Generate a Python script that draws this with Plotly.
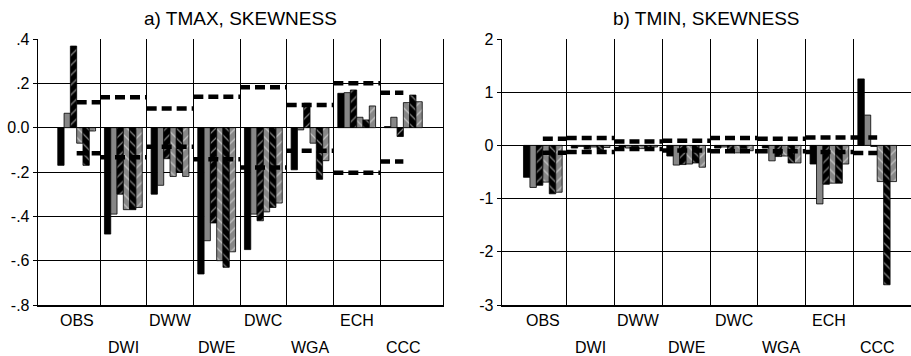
import plotly.graph_objects as go

categories = ["OBS", "DWI", "DWW", "DWE", "DWC", "WGA", "ECH", "CCC"]

# Panel a) TMAX skewness, six series per category
tmax_s1 = [-0.17, -0.48, -0.30, -0.66, -0.55, -0.19, 0.155, 0.005]
tmax_s2 = [0.065, -0.39, -0.26, -0.51, -0.39, -0.01, 0.158, 0.047]
tmax_s3 = [0.368, -0.30, -0.14, -0.43, -0.42, 0.11, 0.17, -0.04]
tmax_s4 = [-0.07, -0.37, -0.22, -0.60, -0.38, -0.07, 0.047, 0.113]
tmax_s5 = [-0.17, -0.37, -0.20, -0.63, -0.36, -0.233, 0.035, 0.147]
tmax_s6 = [-0.015, -0.36, -0.22, -0.56, -0.34, -0.149, 0.098, 0.117]
tmax_upper = [0.115, 0.137, 0.087, 0.14, 0.182, 0.102, 0.20, 0.158]
tmax_lower = [-0.115, -0.134, -0.086, -0.143, -0.18, -0.104, -0.203, -0.153]

# Panel b) TMIN skewness
tmin_s1 = [-0.60, -0.05, -0.03, -0.20, -0.05, -0.05, -0.35, 1.25]
tmin_s2 = [-0.79, -0.02, -0.05, -0.37, -0.03, -0.29, -1.10, 0.57]
tmin_s3 = [-0.75, -0.07, -0.02, -0.36, -0.10, -0.21, -0.73, -0.02]
tmin_s4 = [-0.69, -0.03, -0.06, -0.35, -0.14, -0.20, -0.71, -0.68]
tmin_s5 = [-0.91, -0.08, -0.04, -0.33, -0.06, -0.33, -0.71, -2.62]
tmin_s6 = [-0.88, -0.04, -0.03, -0.41, -0.10, -0.33, -0.35, -0.68]
tmin_upper = [0.125, 0.137, 0.075, 0.088, 0.137, 0.126, 0.15, 0.15]
tmin_lower = [-0.14, -0.125, -0.07, -0.094, -0.11, -0.11, -0.126, -0.145]

tmax_ticks = [0.4, 0.2, 0.0, -0.2, -0.4, -0.6, -0.8]
tmax_ticktext = [".4", ".2", "0.0", "-.2", "-.4", "-.6", "-.8"]
tmin_ticks = [2, 1, 0, -1, -2, -3]
tmin_ticktext = ["2", "1", "0", "-1", "-2", "-3"]

GRAY = "#878787"
styles = [
    dict(color="black"),
    dict(color=GRAY),
    dict(color="black", pattern=dict(shape="/", bgcolor="black", fgcolor="white", size=7, solidity=0.18, fillmode="overlay")),
    dict(color=GRAY, pattern=dict(shape="\\", bgcolor=GRAY, fgcolor="white", size=7, solidity=0.18, fillmode="overlay")),
    dict(color="black", pattern=dict(shape="\\", bgcolor="black", fgcolor="white", size=7, solidity=0.18, fillmode="overlay")),
    dict(color=GRAY, pattern=dict(shape="/", bgcolor=GRAY, fgcolor="white", size=7, solidity=0.18, fillmode="overlay")),
]

xs = list(range(len(categories)))
n = len(categories)


def bound_segments(vals):
    """Horizontal segment per category: from the mid-point to the neighbour
    boundary (first starts at its own centre, last ends at its own centre)."""
    sx, sy = [], []
    for i, v in enumerate(vals):
        x0 = xs[i] if i == 0 else xs[i] - 0.5
        x1 = xs[i] if i == n - 1 else xs[i] + 0.5
        sx += [x0, x1, None]
        sy += [v, v, None]
    return sx, sy


fig = go.Figure()
panels = [
    ("x", "y", [tmax_s1, tmax_s2, tmax_s3, tmax_s4, tmax_s5, tmax_s6], tmax_upper, tmax_lower),
    ("x2", "y2", [tmin_s1, tmin_s2, tmin_s3, tmin_s4, tmin_s5, tmin_s6], tmin_upper, tmin_lower),
]
for xa, ya, series, up, lo in panels:
    for i, s in enumerate(series):
        m = dict(styles[i])
        m["line"] = dict(color="black", width=0.8)
        fig.add_trace(go.Bar(x=xs, y=s, xaxis=xa, yaxis=ya, marker=m, showlegend=False,
                             offsetgroup=str(i)))
    for b in (up, lo):
        sx, sy = bound_segments(b)
        fig.add_trace(go.Scatter(x=sx, y=sy, xaxis=xa, yaxis=ya, mode="lines",
                                 line=dict(color="black", width=4.5, dash="10px,5px"),
                                 connectgaps=False, showlegend=False))

W, H = 911, 356
grid_x = [0.5, 1.5, 2.5, 3.5, 4.5, 5.5, 6.5]
common_x = dict(tickvals=grid_x, showticklabels=False, ticks="", showgrid=True,
                gridcolor="black", gridwidth=1, zeroline=False, showline=True,
                linecolor="black", linewidth=2)
fig.update_layout(
    width=W, height=H,
    margin=dict(l=0, r=0, t=39, b=51),
    plot_bgcolor="white", paper_bgcolor="white",
    barmode="group", bargap=0.19, bargroupgap=0,
    hovermode=False,
    font=dict(family="Liberation Sans, Arial, sans-serif", color="black", size=16),
    xaxis=dict(domain=[37.7 / W, 442.7 / W], range=[-0.835, 7.843], **common_x),
    xaxis2=dict(domain=[501.7 / W, 1.0], range=[-0.861, 7.708], anchor="y2", **common_x),
    yaxis=dict(range=[-0.8, 0.4], tickvals=tmax_ticks, ticktext=tmax_ticktext,
               showgrid=True, gridcolor="black", gridwidth=1, zeroline=False,
               showline=True, linecolor="black", linewidth=1, mirror=True,
               ticks="outside", ticklen=4, tickcolor="black", tickfont=dict(size=16)),
    yaxis2=dict(range=[-3, 2], tickvals=tmin_ticks, ticktext=tmin_ticktext, anchor="x2",
                showgrid=True, gridcolor="black", gridwidth=1, zeroline=False,
                showline=True, linecolor="black", linewidth=1,
                ticks="outside", ticklen=4, tickcolor="black", tickfont=dict(size=16)),
)

annotations = []
for xa, ya, ymin in (("x", "y", -0.8), ("x2", "y2", -3)):
    for i, c in enumerate(categories):
        annotations.append(dict(x=i, y=ymin, xref=xa, yref=ya, text=c, showarrow=False,
                                xanchor="center", yanchor="middle",
                                yshift=-15 if i % 2 == 0 else -42, font=dict(size=16)))
annotations.append(dict(x=(37.7 + 442.7) / 2 / W, y=1, xref="paper", yref="paper",
                        text="a) TMAX, SKEWNESS", showarrow=False, xanchor="center",
                        yanchor="middle", yshift=21, font=dict(size=19)))
annotations.append(dict(x=(501.7 + 911) / 2 / W, y=1, xref="paper", yref="paper",
                        text="b) TMIN, SKEWNESS", showarrow=False, xanchor="center",
                        yanchor="middle", yshift=21, font=dict(size=19)))
fig.update_layout(annotations=annotations)

fig.write_html("out.html", config={"displayModeBar": False, "staticPlot": True},
               post_script="document.body.style.margin='0px';")
